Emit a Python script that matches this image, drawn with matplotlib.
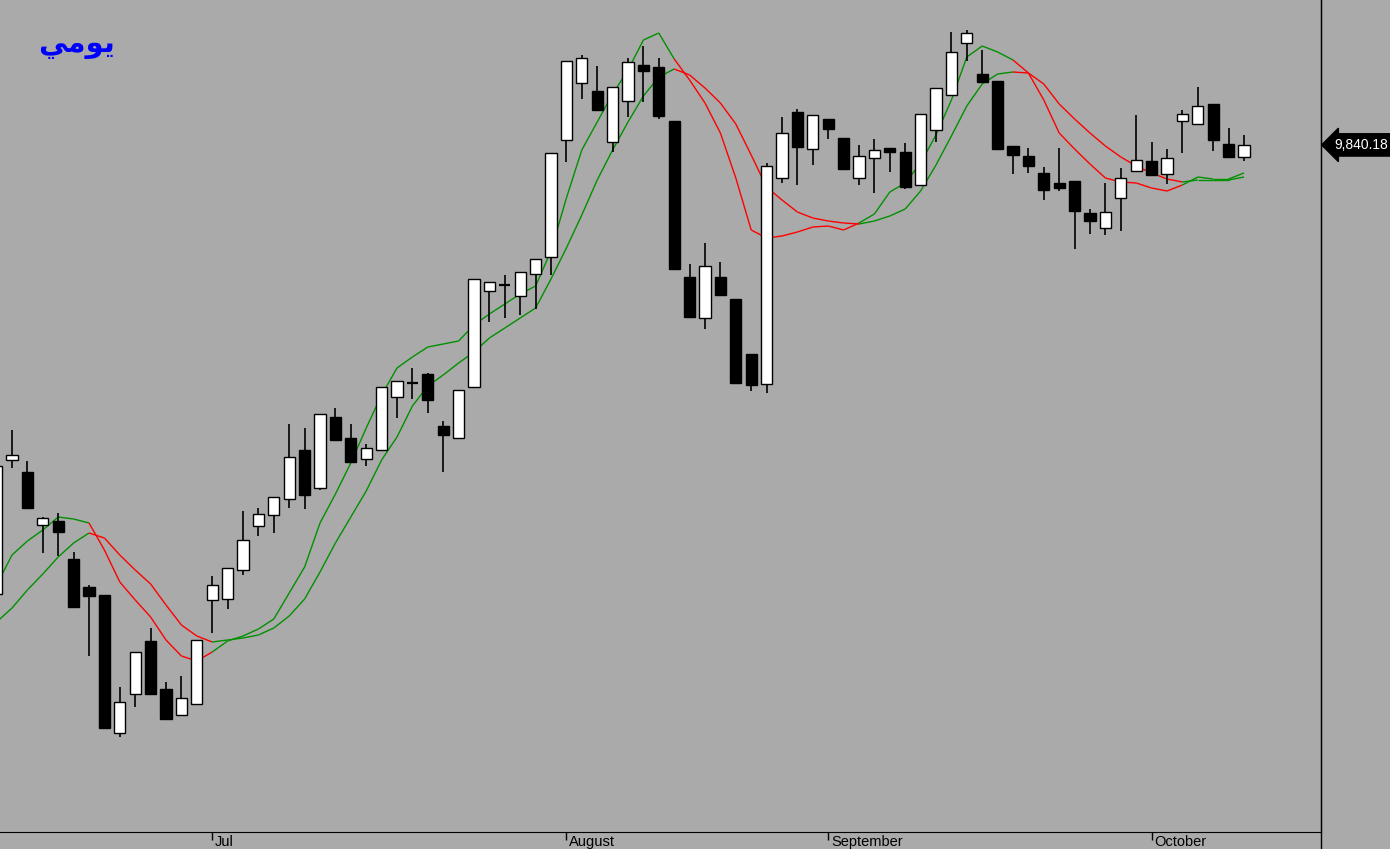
import matplotlib
matplotlib.use('Agg')
import matplotlib.pyplot as plt
import matplotlib.transforms as mtransforms
from matplotlib.collections import LineCollection
from matplotlib.lines import Line2D

# daily candles, oldest first
opens = [8942, 9210, 9186, 9080, 9088, 9012, 8956, 8940, 8664, 8742,
         8848, 8752, 8700, 8722, 8930, 8932, 8990, 9078, 9100, 9132,
         9230, 9154, 9296, 9254, 9212, 9230, 9336, 9364, 9382, 9278,
         9254, 9356, 9548, 9560, 9538, 9582, 9616, 9850, 9964, 9948,
         9846, 9928, 10000, 9996, 9888, 9576, 9494, 9576, 9532, 9422,
         9362, 9774, 9906, 9832, 9892, 9854, 9774, 9814, 9834, 9826,
         9760, 9870, 9940, 10044, 9982, 9968, 9838, 9818, 9784, 9764,
         9768, 9704, 9674, 9734, 9788, 9808, 9782, 9888, 9882, 9922,
         9842, 9816]
highs = [9206, 9270, 9208, 9096, 9104, 9026, 8960, 8940, 8756, 8826,
         8874, 8766, 8778, 8850, 8978, 8994, 9108, 9114, 9136, 9282,
         9274, 9302, 9314, 9282, 9242, 9356, 9368, 9394, 9384, 9288,
         9350, 9572, 9566, 9580, 9586, 9612, 9824, 10008, 10020, 9998,
         9956, 10014, 10038, 10014, 9888, 9602, 9644, 9606, 9532, 9422,
         9804, 9896, 9912, 9900, 9892, 9854, 9840, 9852, 9834, 9844,
         9902, 9954, 10066, 10070, 10030, 9968, 9838, 9834, 9796, 9834,
         9768, 9712, 9764, 9794, 9900, 9846, 9832, 9910, 9956, 9922,
         9874, 9860]
lows = [8936, 9194, 9112, 9024, 9018, 8914, 8818, 8674, 8656, 8716,
        8742, 8690, 8698, 8722, 8864, 8912, 8980, 9058, 9064, 9114,
        9112, 9150, 9250, 9206, 9198, 9230, 9294, 9332, 9304, 9186,
        9254, 9356, 9486, 9494, 9500, 9512, 9580, 9806, 9932, 9910,
        9826, 9896, 9926, 9892, 9592, 9496, 9472, 9540, 9364, 9348,
        9344, 9764, 9760, 9800, 9852, 9792, 9760, 9744, 9786, 9752,
        9760, 9846, 9940, 10008, 9966, 9832, 9782, 9784, 9730, 9748,
        9632, 9662, 9660, 9668, 9788, 9780, 9762, 9824, 9882, 9828,
        9816, 9808]
closes = [9198, 9220, 9114, 9094, 9066, 8916, 8938, 8674, 8726, 8826,
          8742, 8692, 8734, 8850, 8960, 8994, 9050, 9102, 9136, 9216,
          9140, 9302, 9250, 9206, 9234, 9356, 9368, 9364, 9330, 9260,
          9350, 9572, 9566, 9560, 9586, 9612, 9824, 10008, 10014, 9910,
          9956, 10006, 9988, 9898, 9592, 9496, 9598, 9540, 9364, 9360,
          9798, 9864, 9836, 9900, 9872, 9792, 9818, 9830, 9826, 9756,
          9902, 9954, 10026, 10064, 9966, 9832, 9820, 9798, 9750, 9754,
          9708, 9688, 9706, 9774, 9810, 9780, 9814, 9902, 9918, 9850,
          9816, 9840.18]

# two moving averages
fast_ma = [8960, 9020, 9048, 9070, 9096, 9092, 9084, 9030, 8966, 8930,
           8896, 8850, 8818, 8808, 8826, 8848, 8858, 8872, 8892, 8944,
           8996, 9084, 9142, 9204, 9274, 9340, 9394, 9416, 9436, 9442,
           9448, 9480, 9502, 9522, 9542, 9558, 9628, 9734, 9830, 9886,
           9942, 9990, 10050, 10064, 10012, 9970, 9924, 9864, 9774, 9670,
           9654, 9658, 9666, 9676, 9678, 9670, 9684, 9702, 9746, 9764,
           9804, 9860, 9930, 10016, 10038, 10026, 10010, 9984, 9930, 9864,
           9832, 9802, 9774, 9766, 9764, 9754, 9748, 9760, 9776, 9772,
           9772, 9784]
slow_ma = [8886, 8914, 8950, 8982, 9016, 9044, 9064, 9054, 9020, 8990,
           8962, 8920, 8880, 8858, 8846, 8850, 8854, 8860, 8874, 8898,
           8932, 8986, 9044, 9096, 9148, 9210, 9256, 9318, 9358, 9380,
           9404, 9426, 9454, 9474, 9494, 9514, 9572, 9634, 9700, 9770,
           9830, 9886, 9938, 9976, 9992, 9980, 9954, 9924, 9882, 9820,
           9756, 9730, 9706, 9694, 9688, 9684, 9682, 9688, 9698, 9712,
           9748, 9800, 9858, 9918, 9962, 9982, 9986, 9984, 9962, 9922,
           9892, 9864, 9838, 9816, 9798, 9784, 9772, 9766, 9770, 9770,
           9770, 9776]
# trend state of the line segment ending at each candle (1 = up, 0 = down)
trend = ([1] * 7 + [0] * 8 + [1] * 30 + [0] * 12 + [1] * 10 + [0] * 11 + [1] * 4)

month_pos = [14, 37, 54, 75]
month_labels = ['Jul', 'August', 'September', 'October']
title = '\ufef2\ufee3\ufeee\ufef3'  # يومي, shaped glyphs in visual order

bg = '#aaaaaa'
fig = plt.figure(figsize=(13.9, 8.49), dpi=100, facecolor=bg)
ax = fig.add_axes([0, 17 / 849, 1321 / 1390, 832 / 849], facecolor=bg)

x = list(range(len(closes)))

# moving averages, coloured by trend
for ma in (slow_ma, fast_ma):
    segs = [[(x[i - 1], ma[i - 1]), (x[i], ma[i])] for i in range(1, len(ma))]
    cols = ['#009000' if trend[i] else '#ff0000' for i in range(1, len(ma))]
    ax.add_collection(LineCollection(segs, colors=cols, linewidths=1.0, zorder=2))

# candles
ax.vlines(x, lows, highs, color='black', linewidth=1.2, zorder=3)
body_x, body_b, body_h, body_c = [], [], [], []
doji_x, doji_y = [], []
for i in x:
    o, c = opens[i], closes[i]
    if o == c:
        doji_x.append(i)
        doji_y.append(o)
        continue
    body_x.append(i)
    body_b.append(min(o, c))
    body_h.append(abs(c - o))
    body_c.append('white' if c > o else 'black')
ax.bar(body_x, body_h, bottom=body_b, width=0.72, color=body_c,
       edgecolor='black', linewidth=1.0, zorder=4)
ax.hlines(doji_y, [d - 0.36 for d in doji_x], [d + 0.36 for d in doji_x],
          color='black', linewidth=1.6, zorder=4)

ax.set_xlim(0.22, 86.0)
ax.set_ylim(8466, 10130)

for s in ('top', 'left'):
    ax.spines[s].set_visible(False)
ax.spines['bottom'].set_color('black')
ax.spines['right'].set_color('black')
ax.set_yticks([])
ax.set_xticks(month_pos)
ax.tick_params(axis='x', direction='out', length=6, width=1, colors='black',
               labelbottom=False)

trans = mtransforms.blended_transform_factory(ax.transData, ax.transAxes)
off = mtransforms.offset_copy(trans, fig=fig, x=3, y=-3, units='dots')
for p, lab in zip(month_pos, month_labels):
    ax.text(p, 0, lab, transform=off, ha='left', va='top', fontsize=10.5,
            family=['Liberation Sans', 'DejaVu Sans'], color='black', clip_on=False)

# right divider runs to the bottom of the figure
fig.add_artist(Line2D([1321 / 1390, 1321 / 1390], [0, 1], color='black', linewidth=1))

# last price tag
tag_tr = mtransforms.blended_transform_factory(ax.transAxes, ax.transData)
ax.annotate(f'{closes[-1]:,.2f}', xy=(1.0, closes[-1]), xycoords=tag_tr,
            xytext=(13, 0), textcoords='offset pixels', ha='left', va='center',
            fontsize=10, color='white', family=['Liberation Sans', 'DejaVu Sans'],
            bbox=dict(boxstyle='larrow,pad=0.3', fc='black', ec='black'),
            annotation_clip=False)

fig.text(38 / 1390, 1 - 31 / 849, title, color='#0000ff', fontsize=21,
         fontweight='bold', ha='left', va='top', family=['DejaVu Sans'])

fig.savefig('out.png', dpi=100, facecolor=bg)
